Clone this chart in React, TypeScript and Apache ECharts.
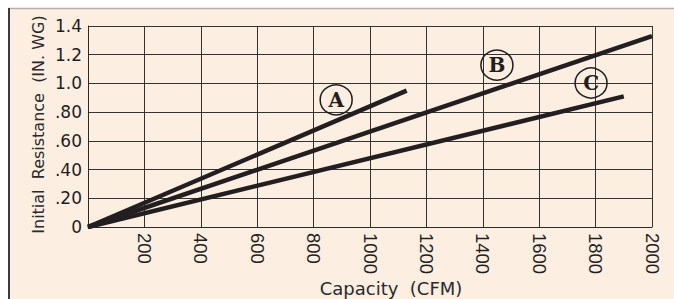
import React, { useEffect, useRef } from "react";
import * as echarts from "echarts";

// Capacity (CFM) ticks and resistance (IN. WG) ticks
const xTicks = [200, 400, 600, 800, 1000, 1200, 1400, 1600, 1800, 2000];
const yTickValues = [0, 0.2, 0.4, 0.6, 0.8, 1.0, 1.2, 1.4];
const yTickLabels = ["0", ".20", ".40", ".60", ".80", "1.0", "1.2", "1.4"];

// Series: [capacity, resistance]
const seriesNames = ["A", "B", "C"];
const lineA = [[0, 0], [1130, 0.95]];
const lineB = [[0, 0], [2000, 1.33]];
const lineC = [[0, 0], [1900, 0.91]];
// Circled letter label positions (data units)
const labelA = [880, 0.885];
const labelB = [1450, 1.128];
const labelC = [1784, 1.003];

const lineColor = "#231f20";

export default function App() {
  const ref = useRef<HTMLDivElement>(null);
  useEffect(() => {
    if (!ref.current) return;
    const chart = echarts.init(ref.current, null, { renderer: "svg" });
    const datas = [lineA, lineB, lineC];
    const labels = [labelA, labelB, labelC];
    chart.setOption({
      animation: false,
      backgroundColor: "#ffffff",
      graphic: [
        {
          type: "rect",
          z: -10,
          silent: true,
          shape: { x: 8, y: 8, width: 666, height: 291 },
          style: { fill: "#fdeee2" },
        },
        {
          type: "line",
          z: -9,
          silent: true,
          shape: { x1: 8, y1: 8.5, x2: 674, y2: 8.5 },
          style: { stroke: "#b5b0ab", lineWidth: 1.5 },
        },
        {
          type: "line",
          z: -9,
          silent: true,
          shape: { x1: 9, y1: 8, x2: 9, y2: 299 },
          style: { stroke: "#3c3c3c", lineWidth: 2 },
        },
      ],
      grid: {
        left: 88,
        top: 26,
        right: 22,
        bottom: 72,
        containLabel: false,
        outerBoundsMode: "none",
      },
      xAxis: {
        type: "value",
        min: 0,
        max: 2000,
        interval: 200,
        name: "Capacity  (CFM)",
        nameLocation: "middle",
        nameGap: 52,
        nameMoveOverlap: false,
        nameTextStyle: {
          fontFamily: "DejaVu Sans",
          fontSize: 18,
          color: "#2a2a2a",
          padding: [0, 0, 0, 42],
        },
        axisLine: { show: true, lineStyle: { color: "#2a2a2a", width: 1 } },
        axisTick: { show: false },
        splitLine: { show: true, lineStyle: { color: "#333", width: 1 } },
        axisLabel: {
          rotate: -90,
          margin: 6,
          fontFamily: "Liberation Sans",
          fontSize: 18.5,
          color: "#1e1e1e",
          formatter: (v: number) => (xTicks.includes(v) ? String(v) : ""),
        },
      },
      yAxis: {
        type: "value",
        min: 0,
        max: 1.4,
        interval: 0.2,
        name: "Initial  Resistance  (IN. WG)",
        nameLocation: "middle",
        nameRotate: 90,
        nameGap: 42,
        nameMoveOverlap: false,
        nameTextStyle: {
          fontFamily: "DejaVu Sans",
          fontSize: 16,
          color: "#2a2a2a",
          padding: [0, 0, 0, 4],
        },
        axisLine: { show: true, lineStyle: { color: "#2a2a2a", width: 1 } },
        axisTick: { show: false },
        splitLine: { show: true, lineStyle: { color: "#333", width: 1 } },
        axisLabel: {
          margin: 6,
          fontFamily: "DejaVu Sans",
          fontSize: 17,
          color: "#1e1e1e",
          formatter: (v: number) => {
            const i = yTickValues.findIndex((t) => Math.abs(t - v) < 1e-6);
            return i >= 0 ? yTickLabels[i] : "";
          },
        },
      },
      series: seriesNames.map((n, i) => ({
        type: "line",
        name: n,
        data: datas[i],
        symbol: "none",
        lineStyle: { color: lineColor, width: 4.5 },
        z: 3,
        markPoint: {
          symbol: "circle",
          symbolSize: [32, 30],
          itemStyle: { color: "rgba(0,0,0,0)", borderColor: lineColor, borderWidth: 1.5 },
          label: {
            show: true,
            position: "inside",
            formatter: "{b}",
            fontFamily: "DejaVu Serif",
            fontWeight: "bold",
            fontSize: 20,
            color: lineColor,
          },
          data: [{ name: n, coord: labels[i] }],
        },
      })),
    });
    return () => chart.dispose();
  }, []);
  return (
    <div
      ref={ref}
      style={{ position: "fixed", left: 0, top: 0, width: 674, height: 299 }}
    />
  );
}
